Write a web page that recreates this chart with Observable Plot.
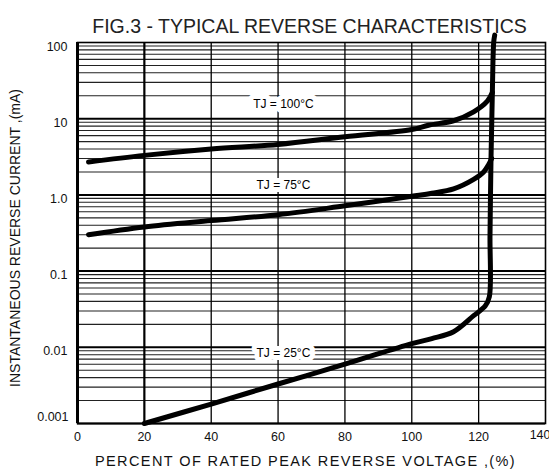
<!DOCTYPE html>
<html><head><meta charset="utf-8">
<script src="https://cdn.jsdelivr.net/npm/d3@7"></script>
<script src="https://cdn.jsdelivr.net/npm/@observablehq/plot@0.6"></script>
<style>body{margin:0;background:#fff} svg{display:block}</style>
</head><body><div id="chart"></div>
<script>
const title = "FIG.3 - TYPICAL REVERSE CHARACTERISTICS";
const xTitle = "PERCENT OF RATED PEAK REVERSE VOLTAGE ,(%)";
const yTitle = "INSTANTANEOUS REVERSE CURRENT ,(mA)";
const xTicks = [0, 20, 40, 60, 80, 100, 120, 140];
const yTicks = [0.001, 0.01, 0.1, 1, 10, 100];
const yTickLabels = ["0.001", "0.01", "0.1", "1.0", "10", "100"];
const seriesNames = ["TJ = 100°C", "TJ = 75°C", "TJ = 25°C"];

// Tj = 100°C
const x100 = [3.3, 20, 40, 60, 80, 100, 105, 112.5, 118.5, 122.6, 124.1];
const y100 = [2.7, 3.3, 4.0, 4.6, 5.8, 7.2, 8.2, 9.4, 12.3, 17, 22];
// Tj = 75°C
const x75 = [3.3, 20, 40, 60, 80, 100, 106, 112.5, 118.5, 121.5, 123, 123.9];
const y75 = [0.30, 0.38, 0.46, 0.55, 0.72, 0.96, 1.05, 1.2, 1.6, 2.0, 2.5, 3.0];
// Tj = 25°C (continues into the vertical breakdown line)
const x25 = [20, 40, 60, 80, 100, 106, 112.5, 118.5, 122, 123.2, 123.4, 123.7, 124.1, 124.5, 124.8];
const y25 = [0.001, 0.0018, 0.0033, 0.006, 0.0112, 0.013, 0.016, 0.026, 0.035, 0.046, 0.3, 3, 22, 100, 125];

// label anchors (data units)
const labelPct = [61.6, 61.6, 61.6];
const labelCurrent = [15.3, 1.33, 0.0085];

const toRows = (xs, ys, name) => xs.map((x, i) => ({x, y: ys[i], name}));
const curves = [
  toRows(x100, y100, seriesNames[0]),
  toRows(x75, y75, seriesNames[1]),
  toRows(x25, y25, seriesNames[2])
];
const labels = seriesNames.map((name, i) => ({name, x: labelPct[i], y: labelCurrent[i]}));

const decades = yTicks.slice(0, -1);
const minor = [];
for (const d of decades) for (let k = 2; k <= 9; k++) minor.push(d * k);
const verticals = xTicks.filter(v => v > 0 && v < 140);
const lastTick = xTicks[xTicks.length - 1];
const yLabel = d => yTickLabels[yTicks.indexOf(d)];

const chart = Plot.plot({
  width: 549, height: 476,
  marginLeft: 77, marginRight: 4, marginTop: 42, marginBottom: 53,
  style: {fontFamily: "'Liberation Sans', Arial, sans-serif", fontSize: "12.5px", color: "#111", background: "#fff"},
  x: {domain: [0, 140], ticks: xTicks},
  y: {type: "log", domain: [0.001, 100]},
  marks: [
    Plot.ruleY(minor, {stroke: "#222", strokeWidth: 1.1}),
    Plot.ruleY(decades, {stroke: "#000", strokeWidth: 2}),
    Plot.ruleX(verticals, {stroke: "#000", strokeWidth: d => d === 20 ? 2.2 : 1.3}),
    Plot.frame({stroke: "#000", strokeWidth: 1.6}),
    Plot.ruleX([0], {stroke: "#000", strokeWidth: 3}),
    Plot.axisX({ticks: xTicks.slice(0, -1), tickSize: 0, tickPadding: 9, label: null, fontSize: "12.5px"}),
    Plot.axisX({ticks: [lastTick], tickSize: 0, tickPadding: 7, label: null, fontSize: "12.5px", textAnchor: "end", dx: 5}),
    Plot.axisY({ticks: yTicks.slice(1), tickSize: 0, tickPadding: 10, label: null, tickFormat: yLabel, fontSize: "12.5px", dy: 4}),
    Plot.axisY({ticks: yTicks.slice(0, 1), tickSize: 0, tickPadding: 9, label: null, tickFormat: yLabel, fontSize: "12.5px", dy: -7}),
    ...curves.map(rows => Plot.line(rows, {x: "x", y: "y", stroke: "#000", strokeWidth: 5, curve: "catmull-rom"})),
    Plot.text(labels, {x: "x", y: "y", text: "name", fill: "#000", stroke: "white", strokeWidth: 10, fontSize: 12}),
    Plot.text([title], {frameAnchor: "top", textAnchor: "middle", dx: -2, dy: -23, fontSize: 19.5, fill: "#222"}),
    Plot.text([xTitle], {frameAnchor: "bottom", textAnchor: "middle", dx: -6, dy: 42, fontSize: 14.5, fill: "#111"}),
    Plot.text([yTitle], {frameAnchor: "left", textAnchor: "middle", dx: -62, dy: 5, rotate: -90, fontSize: 14, fill: "#111"})
  ]
});
d3.select(chart).selectAll("text").filter(function() { return this.textContent === xTitle; })
  .attr("letter-spacing", "1.4px");
document.getElementById("chart").appendChild(chart);
</script>
</body></html>
